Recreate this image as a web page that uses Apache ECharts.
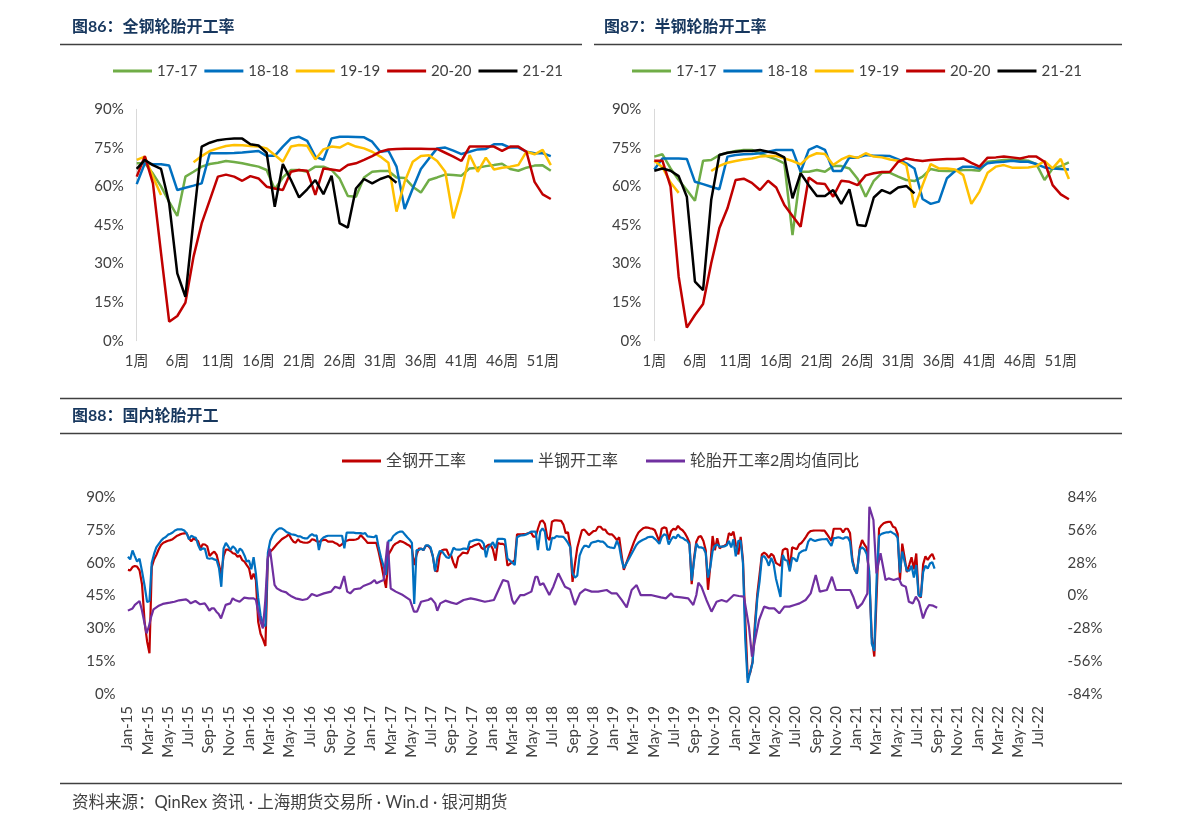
<!DOCTYPE html>
<html><head><meta charset="utf-8">
<script src="https://cdn.jsdelivr.net/npm/echarts@6/dist/echarts.min.js"></script>
<style>html,body{margin:0;padding:0;background:#fff}#c{width:1191px;height:832px}</style>
</head><body><div id="c"></div>
<script>
// ---------- top charts: weekly utilisation by year (%) ----------
const YEARS = ['17-17','18-18','19-19','20-20','21-21'];
const COLORS = ['#70AD47','#0070C0','#FFC000','#C00000','#000000'];
// 全钢 (all-steel)
const QG17 = [69,69,65,60,54,48.5,63.8,65.7,67.7,68.7,69.2,69.9,69.5,69,68.3,67.7,66.4,58.9,63.5,66.4,66.4,65.7,67.7,67.7,66.4,63,56.3,56,63.5,65.7,66,66,63.5,63.3,59.9,57.6,62.5,63.5,64.6,64.4,64.2,67,67.3,67.9,68.3,68.8,66.8,66.1,67.3,68.1,68.2,66.1];
const QG18 = [60.9,69,68.6,68.6,68.1,58.6,59.5,60.3,61.2,72.9,72.9,72.9,73,73.2,73.5,73.8,71.9,71.9,75.5,78.7,79.3,77.7,71.6,70.3,78.7,79.3,79.3,79.2,79.1,77.4,73.5,73.9,67.7,51.2,59.2,66.8,70.9,74.8,75.1,73.9,72.6,73.5,74.4,74.6,76.4,76.4,75.1,75.1,73.5,72.9,72.9,71.8];
const QG19 = [70.3,71.6,63.8,56.7,null,null,null,69.4,71.8,73.8,74.8,75.7,76.1,76,75.7,75.5,74.8,72.2,69.6,75.5,76.1,75.8,70.5,74.4,75.5,75.1,76.8,75.5,74.8,73.5,71.6,69.2,50.2,61.8,69.6,71.8,72.1,69.9,65.7,47.6,58.6,72.2,65.7,71.2,66.6,67.3,67.7,68.3,73.5,72.5,74.2,68.3];
const QG20 = [63.8,71.8,61.2,34,7.4,9.6,14.8,32.7,45.6,54.7,63.8,64.6,63.8,62.2,64,63.1,59.9,59.2,58.6,65.7,66.4,66.1,56.7,67,66.6,66.1,68.3,69,70.3,71.8,73.5,74.4,74.6,74.7,74.7,74.7,74.6,74.6,73.1,71.6,69.9,75.5,75.5,75.5,75.5,73.8,75.5,75.5,73.5,61.8,56.9,55.1];
const QG21 = [66.8,70.3,68.3,66.8,53.4,26.2,17.1,47,75.5,77,78,78.4,78.6,78.6,76.4,75.9,73.1,52.1,68.7,62.5,55.7,58.9,62.5,57,64.2,45.6,44,59.2,62.9,61.2,62.9,64,61.4];
// 半钢 (semi-steel)
const BG17 = [71.6,72.5,67,62.5,58.6,54.4,70,70.3,72.2,73.1,73.8,74.2,74.2,72.9,71.6,70.5,69,41.1,65.7,65.7,66.4,65.7,67.9,67.9,67,63,56,62.2,65.3,65.3,63.8,62.5,62.1,63.8,66.8,66.1,66,66,66.4,66.4,66.1,69.6,69.9,70.3,70.5,70.3,70,68.7,62.5,67,67.9,69.4];
const BG18 = [66.6,70.9,70.9,70.9,70.7,61.8,60.9,59.9,58.9,71.6,72.2,72.5,72.6,72.9,73.5,74.2,74.2,74.2,65.7,74.2,75.7,74.2,66,66,71.3,71.2,72.2,71.9,71.9,71.8,70.5,69,67,55.1,53.2,54.1,63.2,66,67.7,67.7,67,69,69.4,69.6,70,69.6,69.6,68.7,67.4,67,66.8,66.6];
const BG19 = [70,67.5,61.5,57.5,null,null,null,66,68,69.2,69.9,70.5,70.9,71.6,71.8,71.8,70.9,69.9,68.6,71.6,72.9,72.6,68.3,70.5,71.9,71.1,72.9,71.6,71.3,70.5,70,68.3,51.8,60.5,68.7,67,67,66.6,64.4,53.2,58,65.3,67.7,68.3,67.3,67.3,67.4,67.9,69.9,67,70.7,62.9];
const BG20 = [70,70,59.9,24.9,5.1,10,14.3,30.1,43.7,51.5,62.5,63,61.4,58.6,62.2,59.6,52.8,48.5,44.3,63.5,61.2,60.9,56,62.2,61.8,60.5,64.3,65.1,65.6,65.7,69.6,70.9,70.3,69.9,70.3,70.5,70.7,70.7,70.9,69.2,67.7,71.2,71.3,71.6,71.3,70.9,71.6,71.6,69.6,60.5,56.9,55];
const BG21 = [66.1,67,66.1,64,56,23,19.7,54.7,72.2,73.1,73.5,73.8,73.8,74.2,73.5,72.9,71.3,55.4,65.1,60.5,56.3,56.3,58.6,53.2,58.9,45,44.6,55.7,58.6,57.3,59.6,60.2,57.3];

// ---------- bottom chart ----------
// weekly 2015-2016 (first week 2015-01-02)
const START_1516 = '2015-01-02';
const QG_1516 = [56.7,56.5,58,58.5,58.2,56.5,50,33,24,18.6,58,61.5,63.5,66,68.1,69.1,69.6,70,70.3,70.7,71.5,72.3,72.8,73.2,73.4,73.5,71,69.8,71,70.5,69.8,66.5,68.4,68.3,67.5,63,64.2,65,63.5,59,54.5,63,66,66,65.3,64.3,64,62.7,63.3,61.2,60.5,58.9,57.4,52.4,55,52,33,27.5,25,21.9,62.7,65,66,67.3,68.5,69.6,70.7,71.4,72,73,71,69.6,69.1,70.7,69.6,69.3,69.1,69.1,69.6,70.7,70.4,69.8,69.5,70,70.4,70.4,69.6,69.6,69.6,69,68.5,67.6,68.5,69.5,70,70.4,70.4,70.4,70.6,71,72.6,71.5,70.4,69];
const BG_1516 = [62.7,61.5,65.6,63,60.5,61.8,56,49.5,42,42.5,60,64,67,68.5,70,71.1,71.7,72.8,73.2,73.8,74.7,75.2,75.2,75.2,74.7,73.5,70.7,72.3,71.7,71.4,68.1,65.8,66.5,66.3,62,61.8,62,61.5,61.1,57.5,49,66.5,69,67.5,65.8,67.5,66.5,64.3,66.5,65.5,63.3,60.5,61,57,62.5,55,44,36,32,31,64.5,70,72.3,73.8,75,75.7,75.7,75,74,73.5,73,72.8,72.6,72,72,71.4,71.1,71.1,72.3,73,72.3,72.5,65.8,70.5,71.5,72,72.3,72.3,72.3,72.3,72.3,72.3,72.3,66.6,73.7,73.7,73.7,73.7,73.5,73.5,73.5,73.2,73.5,72];
// first-week date of each year's series in the bottom chart (2017-2021)
const WEEK1 = {2017:'2017-01-12',2018:'2018-01-12',2019:'2019-01-12',2020:'2020-01-12',2021:'2021-01-12'};
// 2-week average YoY: time (months since Jan-2015) and value (%)
const PURPLE_T = [0.03,0.49,0.72,1.18,1.41,1.64,1.87,2.1,2.33,2.56,3.02,3.48,4.17,4.63,5.09,5.78,6.01,6.24,6.7,7.16,7.62,7.85,8.08,8.31,8.54,8.77,9.0,9.23,9.46,9.69,10.15,10.38,10.61,11.07,11.53,11.99,12.45,12.68,12.91,13.14,13.37,13.6,13.83,14.06,14.29,14.52,14.75,15.21,15.67,15.9,16.13,16.59,17.05,17.28,17.74,17.97,18.2,
18.7,19.4,20.1,20.5,21.0,21.4,21.7,22.0,22.4,23.0,23.3,24.0,24.4,24.6,24.9,25.3,25.7,26.0,26.5,27.2,27.9,28.3,28.6,29.0,29.7,30.0,30.4,30.6,30.9,31.4,32.0,32.5,33.2,33.9,34.4,35.3,35.7,36.2,37.1,37.6,38.0,38.2,38.8,39.2,39.9,40.3,40.5,
40.75,41.08,41.67,42.07,42.56,43.22,43.72,44.21,44.7,45.2,45.86,46.5,47.34,47.83,48.33,48.82,49.32,49.81,50.3,
50.7,51.7,52.7,53.2,53.7,54.0,54.7,55.4,55.9,56.2,56.4,56.7,57.2,57.7,58.2,58.7,59.2,59.9,60.4,60.9,61.4,61.7,62.0,62.4,62.9,63.4,63.9,64.4,64.9,65.4,65.9,66.4,67.0,67.5,68.0,68.4,69.1,69.6,70.0,70.7,71.4,71.7,72.1,72.6,73.1,73.3,73.4,73.7,74.0,74.1,74.4,74.9,75.2,75.7,76.2,76.5,76.9,77.2,77.6,77.9,78.2,78.6,78.9,79.2,79.6,80.0];
const PURPLE_V = [-12.9,-11,-8,-4.7,-12.4,-22.3,-32.3,-26.6,-18,-11.8,-9,-7.2,-6.1,-5.3,-4.1,-3.3,-4.7,-6.7,-4.7,-7.5,-6.7,-9.5,-12.9,-11,-11,-13.8,-15.8,-19.5,-13.8,-8,-6.7,-2.4,-3.8,-5.3,-1.8,-2.4,-2.4,-3.8,-13.8,-22.3,-28,-5,30,40,24.6,9,6.1,3.8,2.7,1,-0.4,-2.4,-3.3,-3.8,-3,-1,1.3,
-0.4,1.8,3.3,7.5,6.1,16.6,3.3,1.8,5.3,6.1,8.1,10.4,13.2,10.4,11.8,13.2,45.9,6,3.3,0.4,-3.8,-13.8,-13.8,-5.3,-3.8,-2.4,-6.7,-13,-6.7,-4.4,-6.1,-7.3,-3.8,-2.4,-3.3,-5.3,-4.7,-3.8,13.2,11.8,-3.8,-7.3,0.4,0.4,3.3,16,16,
8.9,10.4,0.4,7.5,18.9,7.5,5.3,-8.1,1.8,5.3,3.3,3.3,4.7,1.8,1.8,-3.8,-10.1,4.7,8.9,
0.4,0.4,-1.6,-2.4,1.8,-1,-1.6,-2.4,-8.1,0.4,10.9,7.5,-3.8,-13.8,-5.3,-3.8,-5.3,0.4,-0.4,-1,-26.6,-52.2,-38,-20.9,-9.5,-11,-11,-15.2,-9.5,-9.5,-8.1,-6.7,-3.8,1.8,17.5,3.3,4.7,16,4.7,4.7,4.7,-1,-11,-6.7,1.8,75.7,76.3,64.4,18.9,18.9,36,13.2,14.6,13.2,14.6,8.9,7.5,-5.3,-6.7,-1,-5.3,-19.5,-12.4,-8.1,-8.7,-10.4];
const MONTHS = ['Jan','Feb','Mar','Apr','May','Jun','Jul','Aug','Sep','Oct','Nov','Dec'];

// ---------- helpers ----------
const F = "Lato, 'Noto Sans CJK SC', sans-serif";
const TXT = '#404040';
function monthIdx(t){ const d=new Date(t); const y=d.getUTCFullYear(), m=d.getUTCMonth(), dd=d.getUTCDate();
  const dim=new Date(Date.UTC(y,m+1,0)).getUTCDate(); return (y-2015)*12+m+(dd-1)/dim; }
function weekly(startStr, vals){ const t0=Date.parse(startStr+'T00:00:00Z'); const out=[];
  vals.forEach((v,i)=>{ if(v!==null) out.push([monthIdx(t0+i*7*86400000), v]); }); return out; }
const qgByYear = {2017:QG17,2018:QG18,2019:QG19,2020:QG20,2021:QG21};
const bgByYear = {2017:BG17,2018:BG18,2019:BG19,2020:BG20,2021:BG21};
let redData = weekly(START_1516, QG_1516), blueData = weekly(START_1516, BG_1516);
for (const y of [2017,2018,2019,2020,2021]) { redData = redData.concat(weekly(WEEK1[y], qgByYear[y])); blueData = blueData.concat(weekly(WEEK1[y], bgByYear[y])); }
const purpleData = PURPLE_T.map((t,i)=>[t, PURPLE_V[i]]);
const WEEKS = Array.from({length:52},(_,i)=>(i+1)+'周');

const chart = echarts.init(document.getElementById('c'), null, {renderer:'canvas'});
const topGrids = [{left:136.7, right:640.2, top:109.3, height:231.4},{left:654.3, right:122.1, top:109.3, height:231.4}];
const catAxis = gi => ({type:'category', gridIndex:gi, data:WEEKS, boundaryGap:false,
  axisLine:{show:false}, axisTick:{show:false}, splitLine:{show:false},
  axisLabel:{interval:4, color:TXT, fontSize:15, fontFamily:F, margin:13}});
const pctAxis = gi => ({type:'value', gridIndex:gi, min:0, max:90, interval:15,
  axisLine:{show:true, lineStyle:{color:'#d9d9d9', width:1}}, axisTick:{show:false}, splitLine:{show:false},
  axisLabel:{formatter:'{value}%', color:TXT, fontSize:15, fontFamily:F, margin:13}});
const series = [];
[[QG17,QG18,QG19,QG20,QG21],[BG17,BG18,BG19,BG20,BG21]].forEach((set,gi)=>{
  set.forEach((arr,i)=>series.push({name:YEARS[i], type:'line', xAxisIndex:gi, yAxisIndex:gi, data:arr,
    symbol:'none', color:COLORS[i], lineStyle:{width:2.5, color:COLORS[i]}, connectNulls:false, z:2+i}));
});
series.push({name:'全钢开工率', type:'line', xAxisIndex:2, yAxisIndex:2, data:redData, symbol:'none', color:'#C00000', lineStyle:{width:2.2,color:'#C00000'}, z:3});
series.push({name:'半钢开工率', type:'line', xAxisIndex:2, yAxisIndex:2, data:blueData, symbol:'none', color:'#0070C0', lineStyle:{width:2.2,color:'#0070C0'}, z:4});
series.push({name:'轮胎开工率2周均值同比', type:'line', xAxisIndex:2, yAxisIndex:3, data:purpleData, symbol:'none', color:'#7030A0', lineStyle:{width:2.2,color:'#7030A0'}, z:5});

const legendBase = {icon:'rect', itemWidth:39, itemHeight:3, padding:0, selectedMode:false};
const option = {
  animation:false, backgroundColor:'#fff',
  grid:[topGrids[0], topGrids[1], {left:127.6, right:142.5, top:497, height:197}],
  legend:[
    Object.assign({}, legendBase, {left:113, top:63, itemGap:7, data:YEARS, textStyle:{fontSize:15, lineHeight:16, color:TXT, fontFamily:F, padding:[0,0,0,0]}}),
    Object.assign({}, legendBase, {left:632, top:63, itemGap:7, data:YEARS, textStyle:{fontSize:15, lineHeight:16, color:TXT, fontFamily:F}}),
    Object.assign({}, legendBase, {left:342, top:453, itemGap:28, data:['全钢开工率','半钢开工率','轮胎开工率2周均值同比'], textStyle:{fontSize:16, lineHeight:16, color:TXT, fontFamily:F}})
  ],
  xAxis:[catAxis(0), catAxis(1),
    {type:'value', gridIndex:2, min:0, max:91, interval:2, axisLine:{show:false}, axisTick:{show:false}, splitLine:{show:false},
     axisLabel:{rotate:90, color:TXT, fontSize:15, fontFamily:F, margin:12,
       formatter:v=>{ if (v%2!==0 || v>90) return ''; return MONTHS[v%12]+'-'+(15+Math.floor(v/12)); }}}],
  yAxis:[pctAxis(0), pctAxis(1),
    {type:'value', gridIndex:2, min:0, max:90, interval:15, axisLine:{show:false}, axisTick:{show:false}, splitLine:{show:false},
     axisLabel:{formatter:'{value}%', color:TXT, fontSize:15, fontFamily:F, margin:12}},
    {type:'value', gridIndex:2, position:'right', min:-84, max:84, interval:28, axisLine:{show:false}, axisTick:{show:false}, splitLine:{show:false},
     axisLabel:{formatter:'{value}%', color:TXT, fontSize:15, fontFamily:F, margin:19}}],
  series:series,
  graphic:[
    {type:'text', left:72, top:19, style:{text:'图86：全钢轮胎开工率', font:"bold 16px "+F, fill:'#17375E'}},
    {type:'text', left:604, top:19, style:{text:'图87：半钢轮胎开工率', font:"bold 16px "+F, fill:'#17375E'}},
    {type:'text', left:72, top:408, style:{text:'图88：国内轮胎开工', font:"bold 16px "+F, fill:'#17375E'}},
    {type:'line', shape:{x1:60,y1:44.5,x2:582,y2:44.5}, style:{stroke:'#404040', lineWidth:1.5}},
    {type:'line', shape:{x1:594,y1:44.5,x2:1122,y2:44.5}, style:{stroke:'#404040', lineWidth:1.5}},
    {type:'line', shape:{x1:60,y1:398.5,x2:1122,y2:398.5}, style:{stroke:'#404040', lineWidth:1.5}},
    {type:'line', shape:{x1:60,y1:433.5,x2:1122,y2:433.5}, style:{stroke:'#404040', lineWidth:1.5}},
    {type:'line', shape:{x1:60,y1:783.5,x2:1122,y2:783.5}, style:{stroke:'#404040', lineWidth:1.5}},
    {type:'text', left:72, top:794, style:{text:'资料来源：QinRex 资讯 · 上海期货交易所 · Win.d · 银河期货', font:"16.5px "+F, fill:'#404040'}}
  ]
};
chart.setOption(option);
</script></body></html>
